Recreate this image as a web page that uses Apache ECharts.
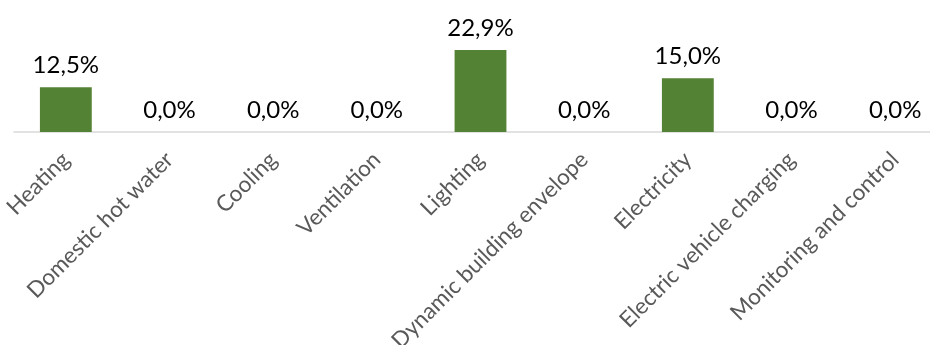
<!DOCTYPE html>
<html>
<head>
<meta charset="utf-8">
<script src="https://cdn.jsdelivr.net/npm/echarts@6/dist/echarts.min.js"></script>
<style>
html,body{margin:0;padding:0;background:#fff;}
#chart{width:930px;height:345px;}
</style>
</head>
<body>
<div id="chart"></div>
<script>
var categories = ["Heating","Domestic hot water","Cooling","Ventilation","Lighting","Dynamic building envelope","Electricity","Electric vehicle charging","Monitoring and control"];
var values = [12.5, 0.0, 0.0, 0.0, 22.9, 0.0, 15.0, 0.0, 0.0];

var chart = echarts.init(document.getElementById('chart'), null, {renderer:'canvas'});
chart.setOption({
  animation: false,
  backgroundColor: '#ffffff',
  grid: {left: 14, top: 42.5, width: 933, bottom: 213, containLabel: false, outerBoundsMode: 'none'},
  xAxis: {
    type: 'category',
    data: categories,
    axisLine: {show: true, lineStyle: {color: '#d9d9d9', width: 1.5}},
    axisTick: {show: false},
    axisLabel: {
      interval: 0,
      rotate: 45,
      margin: 24,
      color: '#595959',
      fontFamily: 'Lato',
      fontSize: 22.5
    }
  },
  yAxis: {
    type: 'value',
    min: 0,
    max: 25,
    show: false,
    splitLine: {show: false}
  },
  series: [{
    type: 'bar',
    data: values,
    barWidth: '50%',
    itemStyle: {color: '#548235'},
    label: {
      show: true,
      position: 'top',
      distance: 10,
      color: '#000000',
      fontFamily: 'Lato',
      fontSize: 24,
      formatter: function(p){ return p.value.toFixed(1).replace('.', ',') + '%'; }
    }
  }]
});
</script>
</body>
</html>
